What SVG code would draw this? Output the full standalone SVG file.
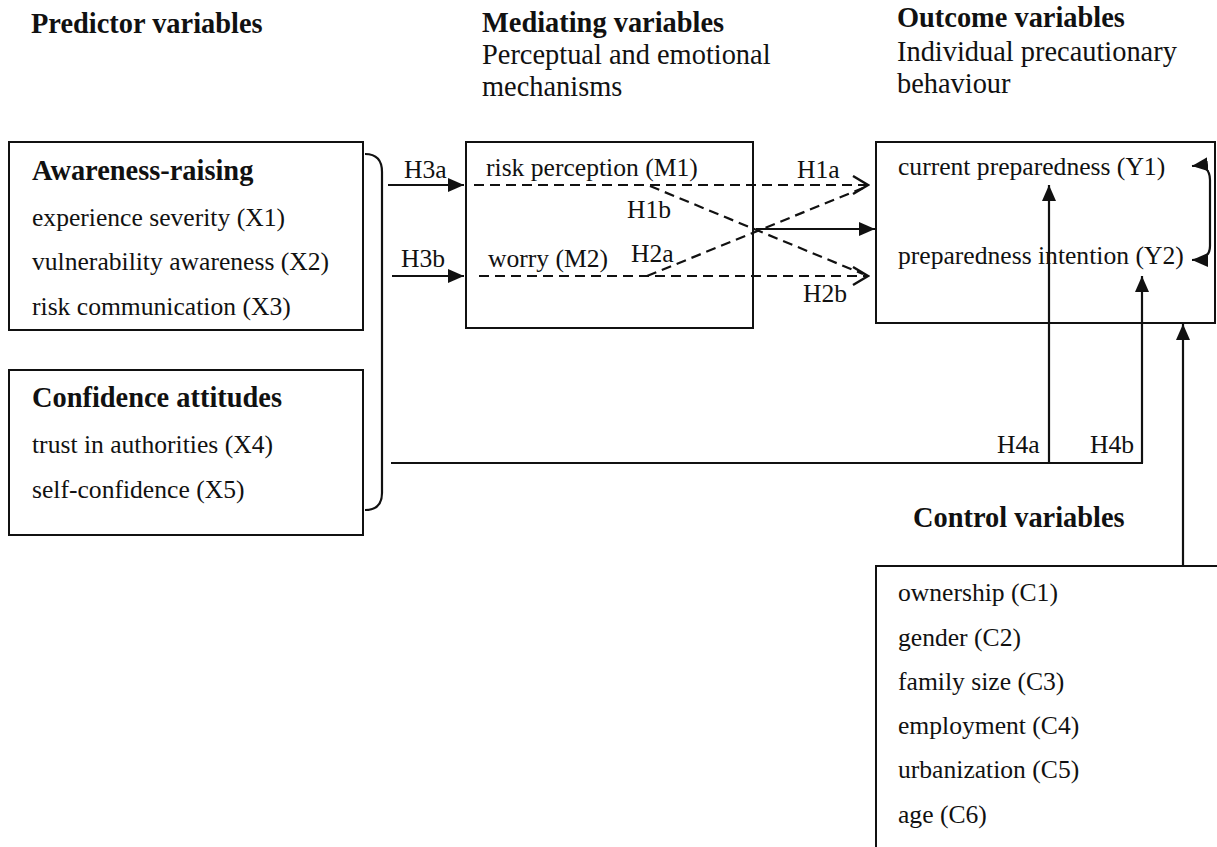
<svg xmlns="http://www.w3.org/2000/svg" width="1217" height="847" viewBox="0 0 1217 847">
<defs>
<style>
text{font-family:"Liberation Serif","Times New Roman",serif;fill:#111}
.h{font-size:28.4px;font-weight:bold}
.s{font-size:28.4px}
.t{font-size:25.6px}
.box{fill:none;stroke:#111;stroke-width:2}
.ln{fill:none;stroke:#111;stroke-width:2.2}
.dash{fill:none;stroke:#111;stroke-width:2.2;stroke-dasharray:10 6}
</style>
<marker id="fa" markerUnits="userSpaceOnUse" markerWidth="18" markerHeight="16" refX="16" refY="8" orient="auto-start-reverse">
<path d="M0,1 L16,8 L0,15 z" fill="#111"/>
</marker>
<marker id="oa" markerUnits="userSpaceOnUse" markerWidth="18" markerHeight="22" refX="16" refY="10" orient="auto">
<path d="M1,1 L16,10 L1,19" fill="none" stroke="#111" stroke-width="2.4"/>
</marker>
</defs>
<rect width="1217" height="847" fill="#fff"/>

<g id="headings">
<text class="h" x="31" y="33">Predictor variables</text>
<text class="h" x="482" y="32">Mediating variables</text>
<text class="s" x="482" y="64">Perceptual and emotional</text>
<text class="s" x="482" y="96">mechanisms</text>
<text class="h" x="897" y="27">Outcome variables</text>
<text class="s" x="897" y="61">Individual precautionary</text>
<text class="s" x="897" y="93">behaviour</text>
</g>

<g id="awareness">
<rect class="box" x="9" y="142" width="354" height="188"/>
<text class="h" x="32" y="180">Awareness-raising</text>
<text class="t" x="32" y="226">experience severity (X1)</text>
<text class="t" x="32" y="270">vulnerability awareness (X2)</text>
<text class="t" x="32" y="315">risk communication (X3)</text>
</g>

<g id="confidence">
<rect class="box" x="9" y="370" width="354" height="165"/>
<text class="h" x="32" y="407">Confidence attitudes</text>
<text class="t" x="32" y="453">trust in authorities (X4)</text>
<text class="t" x="32" y="498">self-confidence (X5)</text>
</g>

<g id="mediators">
<rect class="box" x="466" y="142" width="287" height="186"/>
<text class="t" x="486" y="176">risk perception (M1)</text>
<text class="t" x="488" y="267">worry (M2)</text>
</g>

<g id="outcomes">
<rect class="box" x="876" y="142" width="339" height="181"/>
<text class="t" x="898" y="175">current preparedness (Y1)</text>
<text class="t" x="898" y="264">preparedness intention (Y2)</text>
</g>

<g id="controls">
<text class="h" x="913" y="527">Control variables</text>
<rect class="box" x="876" y="566" width="360" height="300"/>
<text class="t" x="898" y="601">ownership (C1)</text>
<text class="t" x="898" y="646">gender (C2)</text>
<text class="t" x="898" y="690">family size (C3)</text>
<text class="t" x="898" y="734">employment (C4)</text>
<text class="t" x="898" y="778">urbanization (C5)</text>
<text class="t" x="898" y="823">age (C6)</text>
</g>

<g id="connectors">
<path class="ln" d="M365,154 Q382,154 382,172 L382,493 Q382,510 365,510"/>
<line class="ln" x1="388" y1="185" x2="464" y2="185" marker-end="url(#fa)"/>
<line class="ln" x1="392" y1="276" x2="464" y2="276" marker-end="url(#fa)"/>
<line class="dash" x1="474" y1="185" x2="868" y2="185" marker-end="url(#oa)"/>
<line class="dash" x1="479" y1="276" x2="868" y2="276" marker-end="url(#oa)"/>
<line class="dash" x1="650" y1="186" x2="863" y2="274"/>
<line class="dash" x1="647" y1="276" x2="863" y2="188"/>
<line class="ln" x1="756" y1="229" x2="875" y2="229" marker-end="url(#fa)"/>
<path class="ln" d="M391,463 L1143,463"/>
<line class="ln" x1="1049" y1="463" x2="1049" y2="185" marker-end="url(#fa)"/>
<line class="ln" x1="1142" y1="463" x2="1142" y2="276" marker-end="url(#fa)"/>
<line class="ln" x1="1183" y1="566" x2="1183" y2="324" marker-end="url(#fa)"/>
<path class="ln" d="M1192,166 Q1210,164 1210,180 L1210,246 Q1210,260 1192,260" marker-start="url(#fa)" marker-end="url(#fa)"/>
<g id="labels">
<text class="t" x="404" y="178">H3a</text>
<text class="t" x="401" y="267">H3b</text>
<text class="t" x="797" y="178">H1a</text>
<text class="t" x="627" y="218">H1b</text>
<text class="t" x="631" y="262">H2a</text>
<text class="t" x="803" y="302">H2b</text>
<text class="t" x="997" y="453">H4a</text>
<text class="t" x="1090" y="453">H4b</text>
</g>
</g>
</svg>
